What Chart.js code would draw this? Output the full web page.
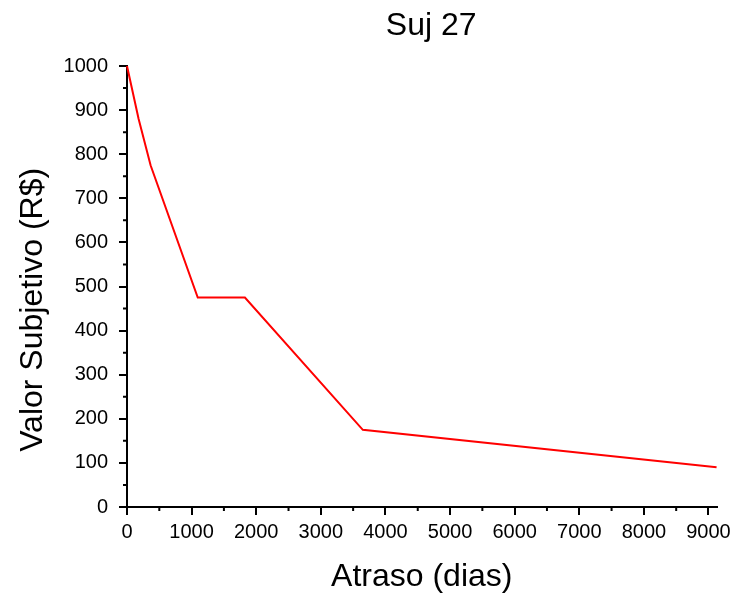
<!DOCTYPE html>
<html><head><meta charset="utf-8">
<script src="https://cdn.jsdelivr.net/npm/chart.js@4.4.0/dist/chart.umd.min.js"></script>
<style>html,body{margin:0;padding:0;background:#fff}#c{display:block}</style>
</head><body>
<canvas id="c" width="736" height="597"></canvas>
<script>
const chartTitle = 'Suj 27';
const xTitle = 'Atraso (dias)';
const yTitle = 'Valor Subjetivo (R$)';
const delays = [0, 180, 365, 1095, 1825, 3650, 9125];
const values = [1000, 880, 775, 475, 475, 175, 90];
const xTickValues = [0, 1000, 2000, 3000, 4000, 5000, 6000, 7000, 8000, 9000];
const yTickValues = [0, 100, 200, 300, 400, 500, 600, 700, 800, 900, 1000];
const xMinorTicks = [500, 1500, 2500, 3500, 4500, 5500, 6500, 7500, 8500];
const yMinorTicks = [50, 150, 250, 350, 450, 550, 650, 750, 850, 950];
const xMax = 9125;
const yMax = 1000;

const FONT = "'Liberation Sans', Arial, sans-serif";

const decor = {
  id: 'decor',
  afterDraw(chart) {
    const {ctx, chartArea: a, scales: {x, y}} = chart;
    ctx.save();
    ctx.strokeStyle = '#000';
    ctx.lineWidth = 2;
    ctx.beginPath();
    xMinorTicks.forEach(v => { const p = x.getPixelForValue(v); ctx.moveTo(p, a.bottom); ctx.lineTo(p, a.bottom + 4); });
    yMinorTicks.forEach(v => { const p = y.getPixelForValue(v); ctx.moveTo(a.left, p); ctx.lineTo(a.left - 4, p); });
    ctx.stroke();
    ctx.fillStyle = '#000';
    ctx.font = '32px ' + FONT;
    ctx.textAlign = 'center';
    ctx.textBaseline = 'alphabetic';
    ctx.fillText(chartTitle, a.left + (a.right - a.left) * 0.516, 35);
    ctx.translate(41.7, a.top + (a.bottom - a.top) * 0.553);
    ctx.rotate(-Math.PI / 2);
    ctx.fillText(yTitle, 0, 0);
    ctx.restore();
  }
};

const axisCommon = {
  grid: { display: true, drawOnChartArea: false, drawTicks: true, tickLength: 8, lineWidth: 2, color: '#000' },
  border: { display: true, color: '#000', width: 2 }
};
const plainLabel = v => String(v);

new Chart(document.getElementById('c'), {
  type: 'line',
  data: {
    datasets: [{
      data: delays.map((d, i) => ({ x: d, y: values[i] })),
      borderColor: '#ff0000',
      backgroundColor: '#ff0000',
      borderWidth: 2,
      pointRadius: 0,
      tension: 0,
      fill: false,
      clip: false
    }]
  },
  plugins: [decor],
  options: {
    responsive: false,
    devicePixelRatio: 1,
    animation: false,
    layout: { padding: { top: 66, right: 19, left: 0, bottom: 0 } },
    plugins: { legend: { display: false }, tooltip: { enabled: false }, title: { display: false } },
    scales: {
      x: {
        type: 'linear', min: 0, max: xMax,
        ...axisCommon,
        ticks: { includeBounds: false, autoSkip: false, maxRotation: 0, color: '#000', padding: 5, font: { size: 20, family: FONT }, callback: plainLabel },
        afterBuildTicks: s => { s.ticks = xTickValues.map(v => ({ value: v })); },
        afterFit: s => { s.height = 90; },
        title: { display: true, text: xTitle, color: '#000', font: { size: 32, family: FONT }, padding: { top: 0, bottom: 1 } }
      },
      y: {
        type: 'linear', min: 0, max: yMax,
        ...axisCommon,
        ticks: { includeBounds: false, autoSkip: false, color: '#000', padding: 11, font: { size: 20, family: FONT }, callback: plainLabel },
        afterBuildTicks: s => { s.ticks = yTickValues.map(v => ({ value: v })); },
        afterFit: s => { s.width = 127; }
      }
    }
  }
});
</script>
</body></html>
